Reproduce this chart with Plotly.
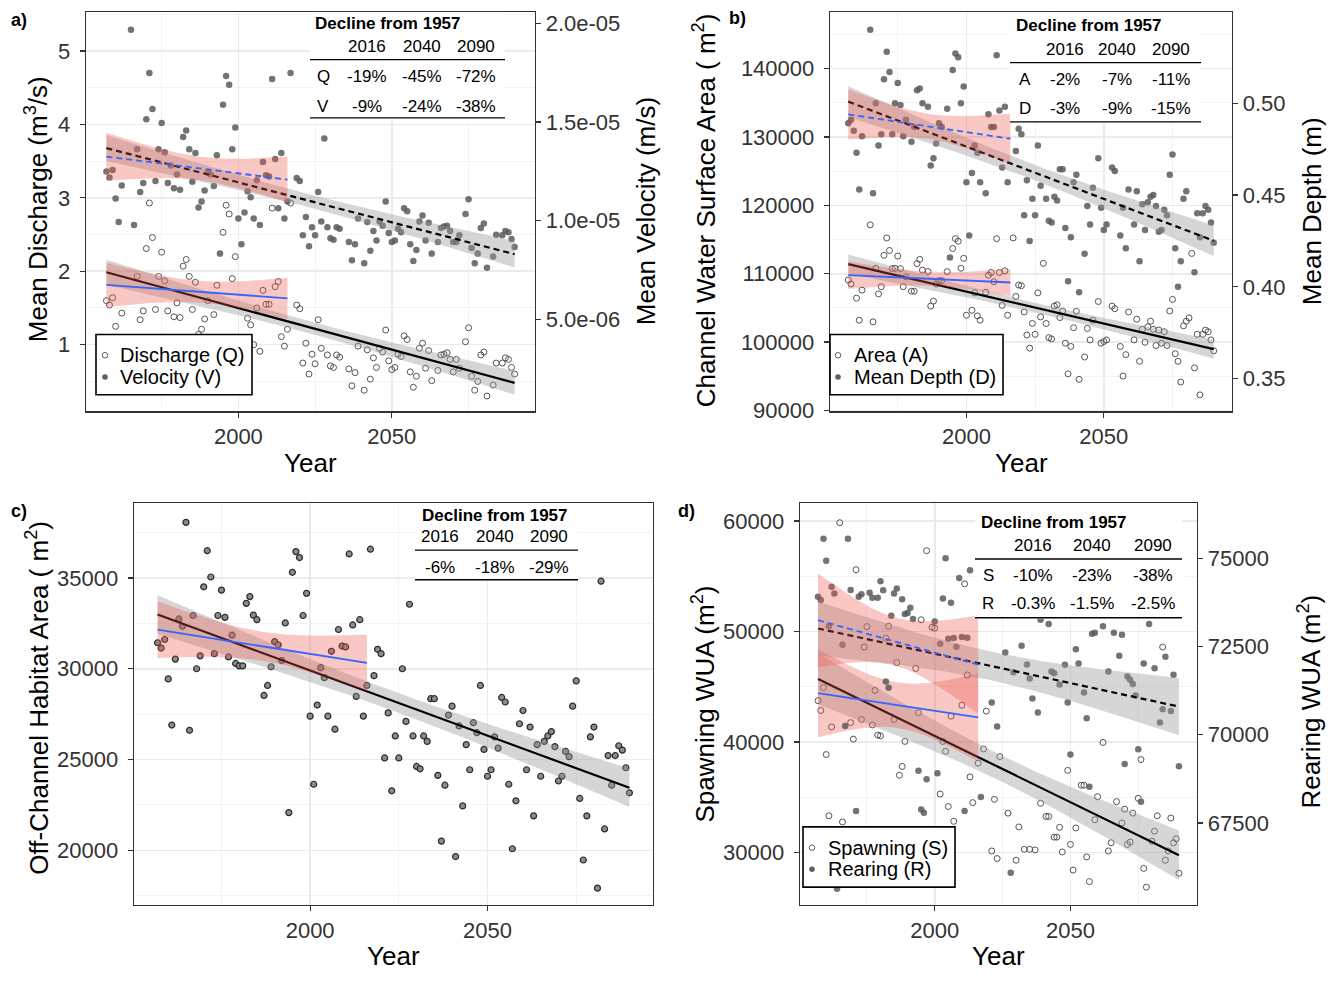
import numpy as np
import plotly.graph_objects as go

W, H = 1332, 982
FONT = "Liberation Sans, Arial, Helvetica, sans-serif"

# ------------------------------------------------------------------ data
# Panel a) -- mean discharge (m3/s) and mean velocity (micro-m/s; axis shows m/s)
discharge_year = [1957, 1958, 1959, 1960, 1962, 1967, 1968, 1969, 1970, 1971,
                  1972, 1973, 1974, 1975, 1976, 1977, 1979, 1980, 1981, 1982,
                  1983, 1984, 1985, 1986, 1987, 1988, 1989, 1990, 1992, 1993,
                  1995, 1996, 1997, 1998, 1999, 2003, 2004, 2005, 2006, 2007,
                  2008, 2009, 2010, 2011, 2012, 2013, 2014, 2015, 2016, 2017,
                  2019, 2020, 2021, 2022, 2023, 2024, 2025, 2026, 2027, 2029,
                  2030, 2031, 2032, 2033, 2036, 2037, 2038, 2039, 2041, 2042,
                  2043, 2044, 2045, 2046, 2047, 2048, 2049, 2050, 2051, 2052,
                  2053, 2054, 2055, 2056, 2057, 2058, 2059, 2060, 2061, 2062,
                  2063, 2065, 2066, 2067, 2068, 2069, 2070, 2071, 2072, 2074,
                  2075, 2076, 2077, 2078, 2079, 2080, 2081, 2083, 2084, 2086,
                  2087, 2088, 2089, 2090]
discharge_m3s = [1.60, 1.54, 1.64, 1.25, 1.43, 1.93, 1.34, 1.46, 2.31, 2.93,
                 2.46, 1.48, 1.93, 2.26, 1.87, 1.46, 1.38, 1.57, 1.37, 2.07,
                 2.16, 1.93, 1.48, 1.85, 1.14, 1.21, 1.35, 1.60, 1.41, 1.81,
                 2.53, 2.90, 2.78, 1.90, 2.20, 1.36, 1.27, 1.00, 1.50, 0.91,
                 1.74, 1.55, 1.55, 2.86, 1.79, 1.86, 1.11, 0.98, 1.21, 2.93,
                 1.54, 1.49, 0.75, 1.02, 0.60, 0.87, 0.74, 1.34, 0.95, 0.86,
                 0.71, 0.69, 0.86, 0.83, 0.67, 0.44, 0.62, 0.98, 0.38, 0.93,
                 0.53, 0.82, 0.69, 0.95, 0.90, 1.20, 0.78, 0.66, 0.69, 0.87,
                 0.84, 1.12, 1.07, 0.63, 0.42, 0.57, 0.95, 1.02, 0.68, 0.92,
                 0.51, 0.65, 0.86, 0.87, 0.89, 0.80, 0.63, 0.80, 0.68, 1.04,
                 1.23, 0.57, 0.38, 0.50, 0.86, 0.90, 0.30, 0.45, 0.75, 0.75,
                 0.82, 0.80, 0.69, 0.60]
velocity_year = [1957, 1958, 1959, 1960, 1961, 1962, 1965, 1966, 1967, 1968,
                 1969, 1970, 1971, 1972, 1973, 1974, 1975, 1976, 1977, 1978,
                 1979, 1980, 1981, 1982, 1983, 1984, 1985, 1986, 1987, 1988,
                 1989, 1990, 1991, 1992, 1993, 1994, 1995, 1996, 1997, 1998,
                 1999, 2000, 2001, 2002, 2003, 2004, 2005, 2006, 2007, 2008,
                 2009, 2010, 2011, 2012, 2013, 2014, 2015, 2016, 2017, 2019,
                 2020, 2021, 2022, 2023, 2024, 2025, 2026, 2027, 2028, 2029,
                 2030, 2031, 2032, 2033, 2036, 2037, 2038, 2039, 2041, 2042,
                 2043, 2044, 2045, 2046, 2047, 2048, 2049, 2050, 2051, 2052,
                 2053, 2054, 2055, 2056, 2057, 2058, 2059, 2060, 2061, 2062,
                 2063, 2065, 2066, 2067, 2068, 2069, 2070, 2071, 2072, 2074,
                 2075, 2076, 2077, 2078, 2079, 2080, 2081, 2083, 2084, 2086,
                 2087, 2088, 2089, 2090]
velocity_um_s = [12.49, 12.19, 12.57, 11.12, 9.93, 11.78, 19.67, 9.78, 13.61, 11.45,
                 11.90, 15.13, 17.47, 15.65, 12.01, 13.61, 14.94, 13.46, 11.90, 12.79,
                 11.64, 12.34, 11.56, 14.24, 14.57, 13.61, 11.97, 13.42, 10.67, 10.97,
                 11.52, 12.45, 12.34, 11.75, 13.31, 8.33, 15.87, 17.32, 16.88, 13.61,
                 14.72, 10.11, 8.81, 10.41, 11.49, 11.19, 10.11, 12.04, 9.78, 12.97,
                 12.30, 12.23, 17.17, 13.12, 10.63, 13.42, 10.11, 10.97, 17.47, 12.16,
                 12.01, 9.26, 10.19, 8.70, 9.67, 9.26, 11.45, 9.96, 14.16, 9.67,
                 9.11, 9.03, 9.67, 9.59, 8.92, 7.99, 8.81, 10.11, 7.84, 9.93,
                 8.48, 9.48, 9.00, 9.96, 9.74, 10.97, 9.37, 8.92, 9.00, 9.59,
                 9.41, 10.63, 10.48, 8.81, 7.96, 8.51, 9.96, 10.26, 9.00, 9.89,
                 8.33, 8.92, 9.63, 9.70, 9.74, 9.48, 8.92, 8.92, 9.26, 10.33,
                 11.08, 8.62, 7.84, 8.33, 9.63, 9.85, 7.62, 8.18, 9.29, 9.26,
                 9.48, 9.41, 9.07, 8.66]

# Panel b) -- channel water surface area (m2) and mean depth (m)
area_year = [1957, 1958, 1960, 1961, 1962, 1965, 1966, 1967, 1968, 1969,
             1970, 1971, 1972, 1973, 1974, 1975, 1976, 1977, 1978, 1980,
             1981, 1982, 1983, 1984, 1986, 1987, 1988, 1989, 1990, 1991,
             1993, 1995, 1996, 1997, 1998, 1999, 2000, 2002, 2003, 2004,
             2005, 2007, 2008, 2009, 2010, 2011, 2012, 2013, 2014, 2015,
             2017, 2018, 2019, 2020, 2021, 2022, 2023, 2024, 2025, 2026,
             2027, 2028, 2029, 2030, 2031, 2032, 2033, 2034, 2035, 2036,
             2037, 2038, 2039, 2040, 2041, 2043, 2044, 2045, 2046, 2048,
             2049, 2050, 2051, 2053, 2054, 2056, 2057, 2058, 2059, 2061,
             2062, 2063, 2064, 2065, 2066, 2067, 2068, 2069, 2070, 2071,
             2072, 2073, 2074, 2075, 2076, 2077, 2078, 2079, 2080, 2081,
             2082, 2083, 2084, 2085, 2086, 2087, 2088, 2089, 2090]
area_m2 = [109070, 108500, 106430, 103200, 107600, 117150, 102960, 110800, 107050, 108100,
           112700, 115230, 113400, 110750, 110800, 112580, 110750, 108100, 109550, 107440,
           107440, 111480, 112100, 110520, 110320, 105270, 106000, 108500, 108980, 108980,
           110300, 113690, 115130, 114750, 110800, 112250, 103930, 104650, 107200, 103830,
           103200, 107290, 109790, 110180, 108830, 115130, 110180, 105370, 110420, 103930,
           115230, 106670, 108350, 108250, 104400, 101040, 99110, 102730, 101140, 107200,
           103690, 111520, 102720, 100650, 100460, 105270, 105460, 103590, 104550, 99840,
           95360, 99360, 102100, 104500, 94550, 97820, 102000, 100320, 103200, 105940,
           99840, 100080, 100320, 105270, 104890, 99360, 95030, 98160, 104400, 100320,
           103350, 97190, 101860, 99980, 102240, 103060, 101860, 99500, 101760, 99840,
           101520, 99500, 104550, 106230, 98300, 97190, 94160, 102380, 103060, 103540,
           112970, 96230, 101140, 92280, 101140, 101760, 101520, 100320, 98730]
depth_year = [1957, 1958, 1959, 1960, 1961, 1962, 1965, 1966, 1967, 1968,
              1969, 1970, 1971, 1972, 1973, 1974, 1975, 1976, 1977, 1978,
              1980, 1981, 1982, 1983, 1984, 1986, 1987, 1988, 1989, 1990,
              1991, 1993, 1994, 1995, 1996, 1997, 1998, 1999, 2000, 2001,
              2002, 2003, 2004, 2005, 2007, 2008, 2009, 2010, 2011, 2012,
              2013, 2014, 2015, 2017, 2018, 2019, 2020, 2021, 2022, 2023,
              2024, 2025, 2026, 2027, 2029, 2030, 2031, 2032, 2033, 2034,
              2035, 2036, 2037, 2038, 2039, 2040, 2041, 2043, 2044, 2045,
              2046, 2048, 2049, 2050, 2051, 2053, 2054, 2056, 2057, 2058,
              2059, 2061, 2062, 2063, 2064, 2065, 2066, 2067, 2068, 2069,
              2070, 2071, 2072, 2073, 2074, 2075, 2076, 2077, 2078, 2079,
              2080, 2083, 2084, 2085, 2086, 2087, 2088, 2089, 2090]
depth_m = [0.489, 0.491, 0.485, 0.473, 0.453, 0.482, 0.540, 0.451, 0.500, 0.477,
           0.483, 0.513, 0.528, 0.517, 0.483, 0.500, 0.511, 0.499, 0.482, 0.491,
           0.479, 0.487, 0.507, 0.508, 0.500, 0.498, 0.466, 0.470, 0.478, 0.489,
           0.487, 0.497, 0.416, 0.518, 0.527, 0.525, 0.500, 0.509, 0.457, 0.428,
           0.462, 0.477, 0.473, 0.457, 0.451, 0.494, 0.487, 0.487, 0.526, 0.496,
           0.465, 0.498, 0.457, 0.528, 0.474, 0.486, 0.483, 0.439, 0.458, 0.425,
           0.448, 0.439, 0.477, 0.455, 0.448, 0.436, 0.435, 0.449, 0.447, 0.464,
           0.464, 0.432, 0.403, 0.427, 0.457, 0.461, 0.397, 0.418, 0.444, 0.434,
           0.454, 0.470, 0.443, 0.431, 0.434, 0.465, 0.463, 0.428, 0.443, 0.421,
           0.453, 0.434, 0.452, 0.414, 0.445, 0.431, 0.446, 0.449, 0.450, 0.444,
           0.430, 0.431, 0.442, 0.439, 0.461, 0.472, 0.421, 0.400, 0.414, 0.448,
           0.452, 0.408, 0.440, 0.427, 0.440, 0.444, 0.442, 0.435, 0.424]

# Panel c) -- off-channel habitat area (m2)
offchannel_year = list(range(1957, 1986)) + list(range(1987, 2091))
offchannel_m2 = [31430, 31140, 31610, 29440, 26900, 30530, 32740, 32340, 38060, 26610,
                 32930, 30000, 30710, 34510, 36500, 35050, 30830, 32930, 34330, 32830,
                 30650, 31850, 30290, 30160, 30160, 33600, 33970, 32950, 32700,
                 28530, 29080, 30110, 31490, 31320, 30450, 32520, 22080, 35310, 36450,
                 36120, 32930, 34150, 27390, 23640, 28000, 30060, 29510, 27390, 30960,
                 26670, 32160, 31250, 31200, 36320, 32410, 28480, 32700, 27390, 29080,
                 36580, 29620, 31070, 30830, 25090, 27570, 23280, 26300, 25090, 30000,
                 27100, 33550, 26300, 24620, 24490, 26300, 26000, 28350, 28350, 24130,
                 20510, 23590, 27450, 27940, 19660, 26850, 22450, 25820, 24440, 27030,
                 26480, 29080, 25560, 24080, 24440, 26250, 25630, 28420, 28170, 23640,
                 20090, 22730, 26970, 27700, 24440, 26790, 21900, 25820, 24080, 26000,
                 26300, 26540, 25710, 23820, 24080, 25450, 25160, 27940, 29330, 22860,
                 19470, 21900, 26250, 26790, 17920, 34820, 21180, 25220, 23590, 25220,
                 25760, 25520, 24550, 23170]

# Panel d) -- spawning WUA (m2) and rearing WUA (m2)
spawning_year = [1957, 1958, 1959, 1960, 1961, 1962, 1965, 1966, 1969, 1970,
                 1971, 1973, 1974, 1975, 1977, 1978, 1979, 1980, 1982, 1983,
                 1985, 1986, 1987, 1988, 1989, 1993, 1994, 1995, 1997, 1999,
                 2000, 2002, 2003, 2004, 2005, 2006, 2007, 2010, 2011, 2012,
                 2013, 2014, 2016, 2018, 2019, 2021, 2022, 2023, 2024, 2027,
                 2030, 2031, 2033, 2035, 2037, 2039, 2041, 2042, 2044, 2045,
                 2046, 2047, 2049, 2050, 2051, 2052, 2054, 2055, 2056, 2057,
                 2059, 2060, 2062, 2064, 2065, 2067, 2069, 2070, 2071, 2072,
                 2073, 2075, 2076, 2077, 2078, 2080, 2081, 2082, 2084, 2085,
                 2086, 2087, 2088, 2089, 2090]
spawning_m2 = [43750, 42860, 44940, 38870, 33330, 41370, 59850, 32770, 41760, 40270,
               55600, 42050, 48600, 50450, 41550, 44670, 40630, 40570, 49400, 50480,
               42050, 47200, 37000, 37800, 40060, 46670, 42650, 51070, 57320, 50390,
               50300, 35300, 40060, 39170, 34170, 42350, 32830, 43330, 54320, 46070,
               36850, 34520, 38100, 39380, 42800, 30150, 34820, 29460, 38690, 33570,
               29310, 32320, 30300, 30300, 30240, 34460, 33270, 33270, 31400, 31400,
               32290, 30060, 37440, 30740, 28420, 32230, 36100, 36100, 29610, 27380,
               32980, 35060, 39970, 30150, 30890, 34610, 32680, 33930, 30740, 30950,
               33570, 34910, 38420, 28570, 26870, 31040, 31930, 33330, 48600, 29310,
               30150, 33130, 30890, 31250, 28130]
rearing_year = [1957, 1958, 1959, 1960, 1961, 1962, 1963, 1964, 1966, 1967,
                1968, 1969, 1971, 1972, 1973, 1976, 1977, 1979, 1980, 1981,
                1982, 1983, 1984, 1985, 1986, 1988, 1989, 1990, 1991, 1992,
                1994, 1995, 1996, 1997, 2000, 2001, 2002, 2003, 2004, 2005,
                2006, 2007, 2008, 2009, 2010, 2011, 2012, 2013, 2017, 2021,
                2023, 2026, 2028, 2029, 2032, 2034, 2035, 2036, 2038, 2039,
                2042, 2043, 2044, 2046, 2048, 2049, 2050, 2052, 2053, 2055,
                2056, 2057, 2058, 2059, 2062, 2064, 2066, 2068, 2069, 2070,
                2071, 2072, 2073, 2074, 2075, 2076, 2077, 2079, 2081, 2083,
                2084, 2085, 2087, 2088, 2090]
rearing_m2 = [73910, 73820, 75550, 74930, 73070, 74190, 74000, 65640, 72550, 70250,
              75550, 74100, 67840, 73910, 73980, 74020, 73880, 73880, 74350, 74090,
              71510, 71330, 73370, 74000, 74140, 73840, 73420, 73450, 73600, 73280,
              68980, 67880, 67790, 68740, 73210, 68910, 72580, 73860, 75000, 72720,
              73740, 72740, 72490, 74440, 72770, 67840, 72750, 74660, 68240, 70910,
              70230, 72330, 66090, 71770, 72520, 71990, 71590, 71030, 70630, 73260,
              73140, 71790, 71740, 71420, 71980, 70910, 69440, 72420, 72020, 71200,
              70470, 68530, 72860, 72890, 73070, 71790, 72890, 72240, 72830, 69170,
              71650, 71560, 71440, 71110, 69590, 68100, 72020, 73140, 71880, 70350,
              70720, 72210, 70670, 71700, 69110]

# Decline tables
decline_years = ["2016", "2040", "2090"]
decline_Q = ["-19%", "-45%", "-72%"]
decline_V = ["-9%", "-24%", "-38%"]
decline_A = ["-2%", "-7%", "-11%"]
decline_D = ["-3%", "-9%", "-15%"]
decline_OC = ["-6%", "-18%", "-29%"]
decline_S = ["-10%", "-23%", "-38%"]
decline_R = ["-0.3%", "-1.5%", "-2.5%"]

FIT_START, HIST_END, FIT_END = 1957, 2016, 2090

# ------------------------------------------------------------------ helpers
def px(x):
    return x / W


def py(y):
    return 1 - y / H


def linfit(x, y, x0, x1, n_grid=120):
    x = np.asarray(x, float)
    y = np.asarray(y, float)
    m = (x >= x0) & (x <= x1)
    xs, ys = x[m], y[m]
    n = xs.size
    b1, b0 = np.polyfit(xs, ys, 1)
    resid = ys - (b0 + b1 * xs)
    s = np.sqrt((resid ** 2).sum() / (n - 2))
    xm = xs.mean()
    sxx = ((xs - xm) ** 2).sum()
    xg = np.linspace(x0, x1, n_grid)
    yg = b0 + b1 * xg
    se = s * np.sqrt(1.0 / n + (xg - xm) ** 2 / sxx)
    t = 2.0 if n < 80 else 1.98
    return xg, yg, yg - t * se, yg + t * se


GREY_FILL = "rgba(153,153,153,0.40)"
RED_FILL = "rgba(236,80,70,0.32)"
BLUE = "#3366FF"
DASH = "6px,4px"

OPEN = dict(symbol="circle-open", size=6, color="#555555", line=dict(width=1))
FILLED = dict(symbol="circle", size=6.5, color="rgba(90,90,90,0.85)", line=dict(width=0))
RING = dict(symbol="circle", size=6, color="#8c8c8c", line=dict(color="#2a2a2a", width=1.2))


def add_series(fig, years, vals, xa, ya, marker, dash):
    fig.add_trace(go.Scatter(x=years, y=vals, mode="markers", marker=marker,
                             xaxis=xa, yaxis=ya, hoverinfo="skip", showlegend=False))
    for x0, x1, fill, col, lw in [(FIT_START, FIT_END, GREY_FILL, "black", 2.2),
                                  (FIT_START, HIST_END, RED_FILL, BLUE, 1.8)]:
        xg, yg, lo, hi = linfit(years, vals, x0, x1)
        fig.add_trace(go.Scatter(x=np.concatenate([xg, xg[::-1]]),
                                 y=np.concatenate([lo, hi[::-1]]),
                                 fill="toself", fillcolor=fill, line=dict(width=0),
                                 mode="lines", xaxis=xa, yaxis=ya,
                                 hoverinfo="skip", showlegend=False))
        fig.add_trace(go.Scatter(x=xg, y=yg, mode="lines",
                                 line=dict(color=col, width=lw, dash=dash),
                                 xaxis=xa, yaxis=ya, hoverinfo="skip", showlegend=False))


YEAR_RANGE = [1950.35, 2096.65]
TICKFONT = dict(size=22, color="#333333", family=FONT)
GRID = "#EBEBEB"
MINOR_GRID = "#F3F3F3"


def xaxis_cfg(frame, anchor):
    l, t, r, b = frame
    return dict(domain=[px(l), px(r)], anchor=anchor, range=YEAR_RANGE,
                tickmode="array", tickvals=[2000, 2050], ticktext=["2000", "2050"],
                ticks="outside", ticklen=5,
                tickwidth=1.2, tickcolor="#333333", showline=True, linecolor="#333333",
                linewidth=1.3, mirror=True, showgrid=True, gridcolor=GRID, gridwidth=1.6,
                minor=dict(tickmode="array", tickvals=[1975, 2025, 2075], showgrid=True,
                           gridcolor=MINOR_GRID, gridwidth=1),
                zeroline=False, tickfont=TICKFONT)


def yaxis_cfg(frame, anchor, rng, major, labels, minor):
    l, t, r, b = frame
    return dict(domain=[py(b), py(t)], anchor=anchor, range=rng,
                tickmode="array", tickvals=major, ticktext=labels,
                ticks="outside", ticklen=5, ticklabelstandoff=5,
                tickwidth=1.2, tickcolor="#333333", showline=True, linecolor="#333333",
                linewidth=1.3, mirror=True, showgrid=True, gridcolor=GRID, gridwidth=1.6,
                minor=dict(tickmode="array", tickvals=minor, showgrid=True,
                           gridcolor=MINOR_GRID, gridwidth=1),
                zeroline=False, tickfont=TICKFONT)


def yaxis_right_cfg(frame, anchor, over, rng, vals, texts):
    l, t, r, b = frame
    return dict(domain=[py(b), py(t)], anchor=anchor, overlaying=over, side="right",
                range=rng, tickmode="array", tickvals=vals, ticktext=texts,
                ticks="outside", ticklen=5, tickwidth=1.2, tickcolor="#333333",
                showline=True, linecolor="#333333", linewidth=1.3, showgrid=False,
                zeroline=False, tickfont=TICKFONT)


shapes, anns = [], []


def txt(s, x, y, size, bold=False, angle=0, xanchor="center"):
    anns.append(dict(text=f"<b>{s}</b>" if bold else s, x=px(x), y=py(y),
                     xref="paper", yref="paper", showarrow=False, xanchor=xanchor,
                     yanchor="middle", textangle=angle, borderpad=0,
                     font=dict(size=size, family=FONT, color="black")))


def hline(x0, x1, y):
    shapes.append(dict(type="line", xref="paper", yref="paper", x0=px(x0), x1=px(x1),
                       y0=py(y), y1=py(y), line=dict(color="black", width=1.3),
                       layer="above"))


def table(box, title_xy, header_y, col_x, rows, line_ys):
    l, t, r, b = box
    shapes.append(dict(type="rect", xref="paper", yref="paper", x0=px(l), x1=px(r),
                       y0=py(b), y1=py(t), fillcolor="white", line=dict(width=0),
                       layer="above"))
    txt("Decline from 1957", title_xy[0], title_xy[1], 17, bold=True)
    for yr, cx in zip(decline_years, col_x):
        txt(yr, cx, header_y, 17)
    for label, lx, ry, vals in rows:
        if label:
            txt(label, lx, ry, 17)
        for v, cx in zip(vals, col_x):
            txt(v, cx, ry, 17)
    for ly in line_ys:
        hline(l, r, ly)


def legend(box, sym_x, text_x, rows):
    l, t, r, b = box
    shapes.append(dict(type="rect", xref="paper", yref="paper", x0=px(l), x1=px(r),
                       y0=py(b), y1=py(t), fillcolor="white",
                       line=dict(color="black", width=1.6), layer="above"))
    for label, ry, filled in rows:
        rad = 2.8
        shapes.append(dict(type="circle", xref="paper", yref="paper",
                           x0=px(sym_x - rad), x1=px(sym_x + rad),
                           y0=py(ry + rad), y1=py(ry - rad),
                           fillcolor="#5f5f5f" if filled else "white",
                           line=dict(color="#5f5f5f", width=0 if filled else 1),
                           layer="above"))
        txt(label, text_x, ry, 20, xanchor="left")


# ------------------------------------------------------------------ figure
FRAME_A = (86, 11, 535, 416)
FRAME_B = (830, 11, 1232, 416)
FRAME_C = (134, 509, 653, 916)
FRAME_D = (800, 509, 1197, 916)

fig = go.Figure()

# a)
add_series(fig, discharge_year, discharge_m3s, "x", "y", OPEN, "solid")
add_series(fig, velocity_year, [v * 1e-6 for v in velocity_um_s], "x", "y2", FILLED, DASH)
# b)
add_series(fig, area_year, area_m2, "x2", "y3", OPEN, "solid")
add_series(fig, depth_year, depth_m, "x2", "y4", FILLED, DASH)
# c)
add_series(fig, offchannel_year, offchannel_m2, "x3", "y5", RING, "solid")
# d)
add_series(fig, spawning_year, spawning_m2, "x4", "y6", OPEN, "solid")
add_series(fig, rearing_year, rearing_m2, "x4", "y7", FILLED, DASH)


def labels(vals):
    return [str(v) for v in vals]


A_TICKS = [1, 2, 3, 4, 5]
B_TICKS = [90000, 100000, 110000, 120000, 130000, 140000]
C_TICKS = [20000, 25000, 30000, 35000]
D_TICKS = [30000, 40000, 50000, 60000]

fig.update_layout(
    xaxis=xaxis_cfg(FRAME_A, "y"),
    yaxis=yaxis_cfg(FRAME_A, "x", [0.09, 5.534], A_TICKS, labels(A_TICKS),
                    [0.5, 1.5, 2.5, 3.5, 4.5, 5.5]),
    yaxis2=yaxis_right_cfg(FRAME_A, "x", "y", [3.346e-7, 2.0573e-5],
                           [5e-6, 1e-5, 1.5e-5, 2e-5],
                           ["5.0e-06", "1.0e-05", "1.5e-05", "2.0e-05"]),
    xaxis2=xaxis_cfg(FRAME_B, "y3"),
    yaxis3=yaxis_cfg(FRAME_B, "x2", [89850, 148300], B_TICKS, labels(B_TICKS),
                     [95000, 105000, 115000, 125000, 135000, 145000]),
    yaxis4=yaxis_right_cfg(FRAME_B, "x2", "y3", [0.33217, 0.54968],
                           [0.35, 0.40, 0.45, 0.50], ["0.35", "0.40", "0.45", "0.50"]),
    xaxis3=xaxis_cfg(FRAME_C, "y5"),
    yaxis5=yaxis_cfg(FRAME_C, "x3", [17000, 39110], C_TICKS, labels(C_TICKS),
                     [17500, 22500, 27500, 32500, 37500]),
    xaxis4=xaxis_cfg(FRAME_D, "y6"),
    yaxis6=yaxis_cfg(FRAME_D, "x4", [25270, 61610], D_TICKS, labels(D_TICKS),
                     [35000, 45000, 55000]),
    yaxis7=yaxis_right_cfg(FRAME_D, "x4", "y6", [65181, 76557],
                           [67500, 70000, 72500, 75000],
                           ["67500", "70000", "72500", "75000"]),
)

# tables
table((310, 12, 505, 121), (388, 23), 46, [367, 421.5, 476],
      [("Q", 323, 77, decline_Q), ("V", 323, 106.5, decline_V)], [59.5, 118.5])
table((1010, 12, 1201, 124), (1089, 25), 49, [1065, 1117, 1170.5],
      [("A", 1025, 79.5, decline_A), ("D", 1025, 109, decline_D)], [62.5, 122.5])
table((415, 510, 578, 588), (495, 521), 543, [440, 495, 548.5],
      [("", 0, 574.5, decline_OC)], [556.5, 586.5])
table((975, 510, 1182, 626), (1054, 529), 551.5, [1032.5, 1091.5, 1152.5],
      [("S", 988, 582, decline_S), ("R", 988, 611, decline_R)], [565.5, 625])

# legends
legend((96, 338, 252, 399), 105, 119, [("Discharge (Q)", 359, False), ("Velocity (V)", 381, True)])
legend((830, 338, 1003, 399), 838, 853, [("Area (A)", 359, False), ("Mean Depth (D)", 381, True)])
legend((803, 837, 955, 898), 812, 827, [("Spawning (S)", 858, False), ("Rearing (R)", 880, True)])

# axis titles
TS = 26
txt("Mean Discharge (m<sup>3</sup>/s)", 36, 211, TS, angle=-90)
txt("Mean Velocity (m/s)", 646, 213, TS, angle=-90)
txt("Year", 310, 468, TS)
txt("Channel Water Surface Area ( m<sup>2</sup>)", 704, 212, TS, angle=-90)
txt("Mean Depth (m)", 1312, 213, TS, angle=-90)
txt("Year", 1021, 468, TS)
txt("Off-Channel Habitat Area ( m<sup>2</sup>)", 38, 706, TS, angle=-90)
txt("Year", 393, 968, TS)
txt("Spawning WUA (m<sup>2</sup>)", 704, 713, TS, angle=-90)
txt("Rearing WUA (m<sup>2</sup>)", 1310, 710, TS, angle=-90)
txt("Year", 998, 968, TS)

# panel labels
txt("a)", 19, 19, 18, bold=True)
txt("b)", 737, 17, 18, bold=True)
txt("c)", 19, 517, 18, bold=True)
txt("d)", 686, 517, 18, bold=True)

fig.update_layout(width=W, height=H, margin=dict(l=0, r=0, t=0, b=0),
                  paper_bgcolor="white", plot_bgcolor="white", showlegend=False,
                  hovermode=False, shapes=shapes, annotations=anns,
                  font=dict(family=FONT))

fig.write_html("out.html", config={"displayModeBar": False, "staticPlot": True},
               post_script="document.body.style.margin='0';document.body.style.padding='0';")
